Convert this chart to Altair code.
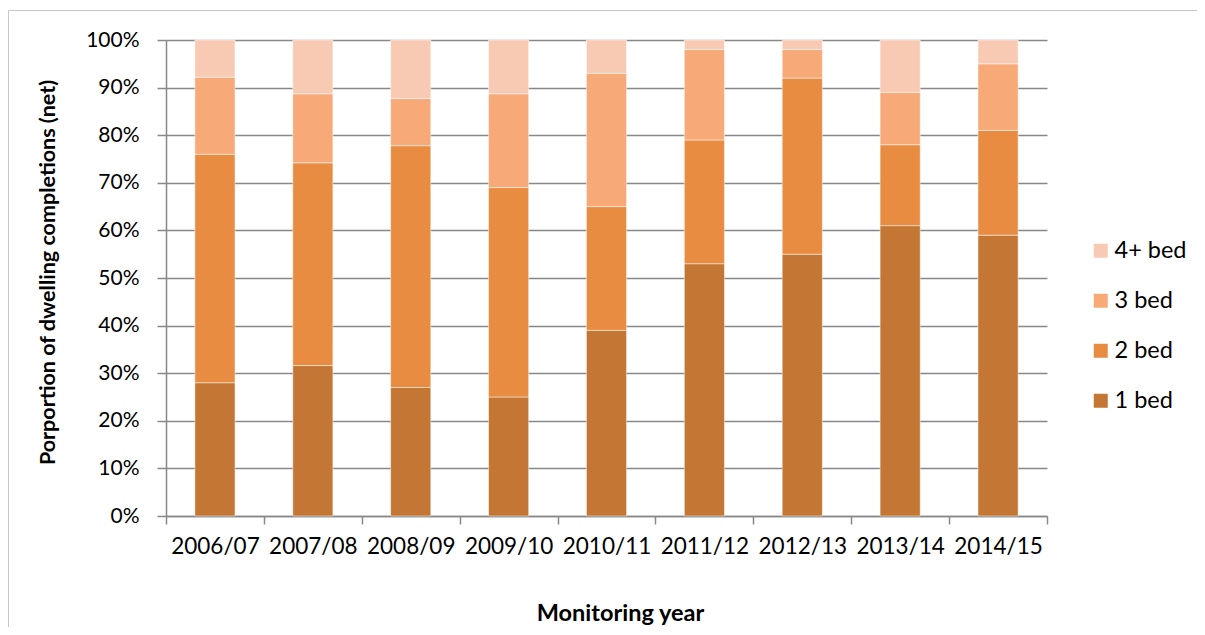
import altair as alt
import pandas as pd

years = ["2006/07", "2007/08", "2008/09", "2009/10", "2010/11",
         "2011/12", "2012/13", "2013/14", "2014/15"]
one_bed = [28.0, 31.6, 27.0, 25.0, 39.0, 53.0, 55.0, 61.0, 59.0]
two_bed = [48.0, 42.6, 50.8, 44.0, 26.0, 26.0, 37.0, 17.0, 22.0]
three_bed = [16.2, 14.5, 9.9, 19.7, 28.0, 19.0, 6.0, 11.0, 14.0]
four_bed = [7.8, 11.3, 12.3, 11.3, 7.0, 2.0, 2.0, 11.0, 5.0]

series_names = ["1 bed", "2 bed", "3 bed", "4+ bed"]
series_values = [one_bed, two_bed, three_bed, four_bed]
series_colors = ["#C47634", "#E88C41", "#F7AA78", "#F9CAB3"]

rows = []
for rank, (name, vals) in enumerate(zip(series_names, series_values)):
    for yr, v in zip(years, vals):
        rows.append({"year": yr, "type": name, "value": v, "rank": rank})
df = pd.DataFrame(rows)

W, H = 881, 476

bars = alt.Chart(df).mark_bar(
    width={"band": 0.41}, stroke="white", strokeWidth=0.8, strokeOpacity=0.6
).encode(
    x=alt.X("year:N", sort=years,
            scale=alt.Scale(paddingInner=0, paddingOuter=0),
            axis=alt.Axis(title="Monitoring year", labelAngle=0, tickBand="extent",
                          tickSize=8, labelPadding=11, labelFontSize=22.5,
                          titleFontSize=23.5, titleFontWeight="bold",
                          titleX=454, titleY=104, titleBaseline="alphabetic",
                          titleAnchor="start", titleAlign="center")),
    y=alt.Y("value:Q", stack="zero",
            scale=alt.Scale(domain=[0, 100], nice=False),
            axis=alt.Axis(title="Porportion of dwelling completions (net)",
                          values=list(range(0, 101, 10)),
                          labelExpr="datum.value + '%'",
                          tickSize=9, labelPadding=18, labelFontSize=21,
                          titleFontSize=21.5, titleFontWeight="bold",
                          titleX=-118, titleY=H / 2 - 6, titleAngle=270,
                          titleBaseline="middle", titleAlign="center",
                          grid=True)),
    color=alt.Color("type:N",
                    scale=alt.Scale(domain=series_names[::-1], range=series_colors[::-1]),
                    legend=alt.Legend(title=None, orient="none", legendX=923, legendY=199,
                                      symbolType="square", symbolSize=196,
                                      symbolStrokeWidth=0, labelFontSize=23.5,
                                      rowPadding=25, labelOffset=2, padding=0)),
    order=alt.Order("rank:Q", sort="ascending"),
)

border_top = alt.Chart(pd.DataFrame({"k": [0]})).mark_rule(
    color="#c8c8c8", strokeWidth=1
).encode(x=alt.value(-157.5), x2=alt.value(1031), y=alt.value(-29.5))
border_left = alt.Chart(pd.DataFrame({"k": [0]})).mark_rule(
    color="#c8c8c8", strokeWidth=1
).encode(x=alt.value(-157.5), y=alt.value(-29.5), y2=alt.value(590))

chart = alt.layer(border_top, border_left, bars).properties(
    width=W, height=H,
    autosize=alt.AutoSizeParams(type="none"),
    padding={"left": 158, "top": 32, "right": 150, "bottom": 111},
).configure(
    font="Lato",
    background="white",
).configure_view(
    stroke=None
).configure_axis(
    labelFont="Lato", titleFont="Lato", labelColor="#000000", titleColor="#000000",
    domainColor="#888888", tickColor="#888888", gridColor="#888888",
    domainWidth=1.5, tickWidth=1.5, gridWidth=1.4,
).configure_axisX(
    grid=False
).configure_legend(
    labelFont="Lato", labelColor="#000000"
)

chart.save("out.html", embed_options={"renderer": "svg", "actions": False})
